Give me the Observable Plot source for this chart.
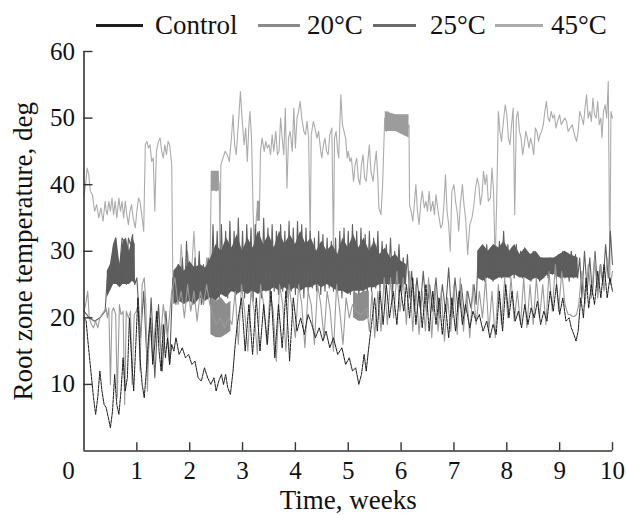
<!DOCTYPE html>
<html>
<head>
<meta charset="utf-8">
<script src="https://cdn.jsdelivr.net/npm/d3@7"></script>
<script src="https://cdn.jsdelivr.net/npm/@observablehq/plot@0.6"></script>
<style>
  html, body { margin: 0; padding: 0; background: #fff; }
  #wrap { width: 626px; font-family: "Liberation Serif", "Times New Roman", serif; }
  #legend { position: relative; height: 30px; width: 626px; z-index: 2; }
  #legend .sw { position: absolute; top: 24px; height: 3px; }
  #legend .lb { position: absolute; top: 9px; font-size: 27px; line-height: 32px; color: #111; white-space: nowrap; }
  #chart { position: relative; z-index: 1; }
</style>
</head>
<body>
<div id="wrap">
  <div id="legend"></div>
  <div id="chart"></div>
</div>
<script>
// ---- series names and colours ----
const seriesNames = ["Control", "20°C", "25°C", "45°C"];
const seriesColors = ["#1c1c1c", "#8a8a8a", "#6a6a6a", "#ababab"];

// ---- tick labels ----
const xTicks = [1, 2, 3, 4, 5, 6, 7, 8, 9, 10];
const yTicks = [10, 20, 30, 40, 50, 60];

// ---- Control: [week, °C] ----
const control = [
[0,20],[0.04,19.5],[0.08,16],[0.13,12],[0.18,8],[0.22,5.5],[0.26,8],[0.3,12],[0.34,9],[0.38,7],[0.42,6.5],[0.46,5],[0.5,3.5],[0.54,6],[0.58,11.5],[0.62,7],[0.66,5.5],[0.7,9],[0.74,14],[0.78,9],[0.82,11],[0.86,20],[0.9,14],[0.94,9],[0.98,16],[1.02,23],[1.06,14],[1.1,10],[1.14,8],[1.18,12],[1.22,17],[1.26,20],[1.3,13],[1.34,16],[1.38,21],[1.42,15],[1.46,12],[1.5,19],[1.54,14],[1.58,17],[1.62,13],[1.66,16],[1.7,15],
[1.74,17],[1.8,14.5],[1.86,15.5],[1.92,14],[1.98,14.5],[2.04,13],[2.1,13.5],[2.16,11],[2.22,10.5],[2.28,12.5],[2.34,11],[2.4,10],[2.46,11],[2.5,9],[2.55,10.5],[2.6,11.5],[2.64,10],[2.68,11.5],[2.72,9.5],[2.77,8.5],[2.82,12],[2.86,16],[2.9,19],[2.94,21],
[2.98,23],[3.05,15],[3.12,22],[3.19,14.5],[3.26,23],[3.33,15],[3.4,22],[3.47,16],[3.54,24],[3.61,14],[3.68,22],[3.75,15.5],[3.82,24],[3.89,13.5],[3.96,23],
[4.03,18],[4.1,20],[4.17,17.5],[4.24,20.5],[4.31,19],[4.38,17],[4.45,18.5],[4.52,16.5],[4.58,18],[4.65,15.5],[4.72,17],[4.8,14.5],[4.88,15.5],[4.95,13],[5.02,14],[5.08,12],[5.14,12.5],[5.2,10],[5.25,11.5],[5.3,14.5],[5.34,12],[5.38,15],[5.44,19],[5.5,23],[5.55,18],[5.6,24],[5.66,19],[5.72,25],[5.78,20],[5.85,24],[5.92,19],[5.98,25],
[6.05,21],[6.1,25],[6.16,20],[6.22,26],[6.28,19],[6.34,24],[6.4,18.5],[6.47,25],[6.53,18],[6.6,24],[6.66,19],[6.72,23],[6.78,17.5],[6.84,22],[6.9,17],[6.96,23],[7.03,18],[7.1,24],[7.16,19],[7.22,22],[7.3,18.5],[7.36,21],[7.42,19.5],[7.48,20.5],[7.55,18],[7.62,19.5],[7.68,17],[7.74,19],[7.8,17.5],[7.86,24],[7.92,18],[7.98,25],
[8.04,20],[8.1,24],[8.16,19.5],[8.22,21],[8.28,18.5],[8.34,22],[8.4,19],[8.46,21.5],[8.52,20],[8.58,22.5],[8.64,19],[8.7,21],[8.76,19.5],[8.82,24],[8.88,21],[8.94,25],[9.0,20.5],[9.06,23],[9.12,19.5],[9.18,20],[9.22,18.5],[9.27,17.5],[9.31,16.5],[9.35,18],[9.4,23],[9.45,20],[9.5,26],[9.55,21.5],[9.6,25],[9.66,22],[9.72,27],[9.78,23],[9.84,28],[9.9,23],[9.95,26],[10,24]
];

// ---- 20°C: [week, °C] ----
const t20 = [
[0,21],[0.03,22],[0.07,24],[0.1,20],[0.14,19],[0.18,18.5],[0.22,19.5],[0.26,18.5],[0.3,20],[0.34,20.5],[0.38,21],[0.42,21.5],[0.44,20],
[0.47,21.5],[0.5,10],[0.53,21],[0.56,21.5],[0.6,20.5],[0.63,8],[0.67,22],[0.7,20.5],[0.74,21],[0.77,7],[0.8,21],[0.84,20],[0.88,21],[0.91,10],[0.95,20.5],[0.99,21],[1.03,22],[1.06,12],[1.1,25],[1.14,26],[1.17,22],[1.2,9],
[1.24,20],[1.3,14],[1.37,21],[1.44,16],[1.5,22],[1.58,17],[1.66,24],
[1.72,26],[1.78,22],[1.84,24],[1.9,20],[1.96,25],[2.02,21],[2.08,24],[2.14,19.5],[2.2,24],[2.26,22],[2.32,25],[2.38,22],
[2.42,21],[2.5,19],[2.58,20],[2.66,18.5],[2.74,20],[2.8,19],
[2.86,24],[2.92,16],[2.98,25],[3.04,21],[3.1,15],[3.16,24],[3.22,21],[3.28,14.5],[3.34,25],[3.4,22],[3.46,16],[3.52,24],[3.58,21],[3.64,13.5],[3.7,25],[3.76,22],[3.82,15],[3.88,25],[3.94,21],[4.0,17],[4.06,25],[4.12,22],[4.18,15.5],[4.24,24],[4.3,22],[4.36,16],[4.42,25],[4.48,22],[4.54,17],[4.6,24],[4.66,21],[4.72,15],[4.78,25],[4.84,21],[4.9,16],[4.96,23],[5.02,20],[5.08,22],
[5.15,21],[5.25,20.5],[5.35,21.5],[5.4,18],[5.45,24],[5.5,17],[5.56,24],
[5.62,18],[5.68,26],[5.74,19],[5.8,26],[5.86,20],[5.92,27],[5.98,21],[6.04,26],[6.1,19],[6.16,27],[6.22,18],[6.28,25],[6.34,17.5],[6.4,24],[6.46,18],[6.52,26],[6.58,17],[6.64,25],[6.7,18],[6.76,24],[6.82,16.5],[6.88,23],[6.94,18],[7.0,25],[7.06,17.5],[7.12,26],[7.18,18],[7.24,24],[7.3,17],[7.36,25],[7.42,19],[7.48,24],[7.54,20],[7.6,26],[7.66,18],[7.72,24],[7.78,17],[7.84,25],[7.9,19],[7.96,26],
[8.02,20],[8.08,26],[8.14,19.5],[8.2,24],[8.26,19],[8.32,26],[8.38,18.5],[8.44,25],[8.5,19],[8.56,26],[8.62,20],[8.68,25],[8.74,19],[8.8,27],[8.86,21],[8.92,28],[8.98,21],[9.04,27],[9.1,22],[9.16,20.5],[9.2,20.5],[9.24,20.2],[9.28,20.2],[9.32,20.5],[9.36,22],[9.42,27],[9.48,22],[9.54,28],[9.6,23],[9.66,29],[9.72,23],[9.78,28],[9.84,24],[9.9,29],[9.96,25],[10,27]
];

// ---- 25°C: [week, °C] ----
const t25 = [
[0,21],[0.1,20],[0.2,19.5],[0.3,20],[0.4,21],[0.44,26],[0.5,27],[0.56,31],[0.6,32],[0.64,26],[0.68,28],[0.72,32],[0.76,31.5],[0.8,25],[0.84,32],[0.88,31],[0.92,32.5],[0.96,25],
[1.0,26],[1.07,17],[1.13,24],[1.2,12],[1.27,23],[1.34,11],[1.41,22],[1.48,12],[1.55,21],[1.62,13],[1.68,26],
[1.74,22],[1.78,28],[1.82,23],[1.86,29],[1.9,22.5],[1.94,31.5],[1.98,23],[2.02,28],[2.06,22],[2.1,29],[2.14,23],[2.18,30],[2.22,22],[2.26,28],[2.3,23],[2.35,29],[2.4,22],[2.44,34],[2.48,24],[2.52,33],[2.56,23],[2.6,34],[2.64,24],[2.68,33],[2.72,23],[2.76,34.5],[2.8,24],[2.84,33],[2.88,23.5],[2.92,35],[2.96,24],[3.0,33],[3.04,23],[3.08,34],[3.12,24],[3.16,33.5],[3.2,22.5],[3.24,34],[3.28,24],[3.32,33],[3.36,23],[3.4,35],[3.44,24],[3.48,33.5],[3.52,23],[3.56,34],[3.6,24],[3.64,33],[3.68,23.5],[3.72,34],[3.76,24],[3.8,33],[3.84,23],[3.88,34.5],[3.92,24],[3.96,33.5],[4.0,23.5],[4.04,34.5],[4.08,24],[4.12,34],[4.16,23],[4.2,33.5],[4.24,24],[4.28,33],[4.32,24.5],[4.36,32],[4.4,24],[4.44,33],[4.48,23.5],[4.52,32.5],[4.56,24],[4.6,32],[4.64,24.5],[4.68,31.5],[4.72,24],[4.76,32],[4.8,24],[4.84,33],[4.88,23],[4.92,33.5],[4.96,24],[5.0,33],[5.04,23.5],[5.08,34],[5.12,24],[5.16,33],[5.2,23],[5.24,33.5],[5.28,24],[5.32,32.5],[5.36,23.5],[5.4,33],[5.44,24],[5.48,32],[5.52,24.5],[5.56,33],[5.6,24],[5.64,31.5],[5.68,24.5],[5.72,31],[5.76,25],[5.8,32],[5.84,24],[5.88,30],[5.92,25],[5.96,31],[6.0,24],[6.04,29],[6.08,25],[6.12,29.5],
[6.16,23],[6.2,27],[6.25,21],[6.3,26],[6.36,21.5],[6.42,27],[6.48,20.5],[6.54,25],[6.6,21],[6.66,26],[6.72,20],[6.78,25],[6.84,21],[6.9,27.5],[6.96,20],[7.02,26],[7.08,21],[7.14,25],[7.2,20.5],[7.26,24],[7.32,21.5],[7.38,25],[7.42,22],
[7.46,30],[7.5,26],[7.54,30.5],[7.58,25.5],[7.62,31],[7.66,26],[7.7,30],[7.74,25.5],[7.78,30.5],[7.82,26],[7.86,31.5],[7.9,26],[7.94,33],[7.98,26.5],[8.02,31],[8.06,26],[8.1,30.5],[8.14,26],[8.18,31],[8.22,26.5],[8.26,30],[8.3,26],[8.34,30.5],[8.38,26],[8.42,29.5],[8.46,25.5],[8.5,30],[8.54,26],[8.58,29.5],[8.62,25.5],[8.66,29],[8.7,26],[8.74,28.5],[8.78,26],[8.82,29],[8.86,26.5],[8.9,28.5],[8.94,26],[8.98,29.5],[9.02,26],[9.06,30],[9.1,26],[9.14,29.5],[9.18,25.5],[9.22,30],[9.26,26],[9.3,29.5],[9.34,26],
[9.38,29],[9.42,23],[9.47,30],[9.52,24],[9.57,29],[9.62,23.5],[9.67,30],[9.72,24],[9.77,28],[9.82,25],[9.87,31],[9.92,26],[9.96,33],[10,28]
];

// ---- 45°C: [week, °C] ----
const t45 = [
[0,38.5],[0.03,40],[0.06,42.5],[0.09,41.5],[0.12,39],[0.16,38.5],[0.2,36],[0.24,37],[0.28,35],[0.32,36.5],[0.36,34.5],[0.4,37.5],[0.42,36],[0.44,35.5],[0.47,37.5],[0.5,36],[0.53,38],[0.56,35.5],[0.59,37.5],[0.62,35],[0.66,38],[0.69,36],[0.72,37.5],[0.75,35],[0.78,37.5],[0.81,35.5],[0.84,34],[0.87,36],[0.9,37],[0.93,35],[0.97,33.5],[1.0,36],[1.03,38],[1.06,37.5],[1.1,35],[1.13,33],
[1.16,46],[1.19,46.5],[1.22,45.5],[1.25,46],[1.28,43.5],[1.31,44],[1.34,36],[1.37,45],[1.41,46.5],[1.44,47],[1.47,45],[1.5,44],[1.53,46],[1.56,44.5],[1.59,46.5],[1.62,46],[1.66,43],[1.68,26],
[1.72,27],[1.78,23],[1.84,31],[1.9,24],[1.96,30],[2.02,25],[2.08,33],[2.14,24],[2.2,27],[2.26,22],[2.32,29],[2.38,26],
[2.41,42],[2.44,39.5],[2.47,42],[2.5,39],[2.53,41.5],[2.56,40],[2.57,30],[2.59,43],[2.63,44],[2.67,45],[2.71,44.5],[2.75,43.5],[2.79,47],[2.82,50.5],[2.85,46],[2.88,44.5],[2.92,49],[2.96,54],[2.99,50],[3.03,46],[3.06,48.5],[3.09,43.5],[3.12,49],[3.14,51],[3.17,47],[3.2,36],[3.23,27],[3.26,35],[3.29,37.5],[3.32,36],[3.34,45],[3.37,47],[3.41,45],[3.44,46.5],[3.47,45.5],[3.5,46],[3.53,44.5],[3.56,47.5],[3.59,45],[3.63,48],[3.66,44.5],[3.69,45],[3.72,50],[3.75,47],[3.78,44.5],[3.81,51.5],[3.84,39.5],[3.87,47],[3.9,48],[3.94,45],[3.97,51.5],
[4.0,45.5],[4.03,50],[4.06,51],[4.09,52.5],[4.12,50],[4.16,48],[4.19,47.5],[4.22,49.5],[4.25,47],[4.28,31],[4.3,47.5],[4.34,49.5],[4.37,48.5],[4.41,47],[4.44,48],[4.48,45],[4.5,44],[4.53,46],[4.56,47],[4.59,45],[4.62,44.5],[4.65,47.5],[4.69,48.5],[4.72,30],[4.74,47],[4.77,48],[4.8,45],[4.82,44],[4.84,49],[4.86,53.5],[4.89,49],[4.92,48],[4.95,47],[4.98,44],[5.0,45],[5.03,43.5],[5.06,44],[5.1,40.5],[5.13,43],[5.16,44],[5.19,41],[5.22,40],[5.25,43],[5.28,44.5],[5.31,41],[5.34,40.5],[5.37,43.5],[5.4,46],[5.43,42],[5.47,40.5],[5.5,43],[5.53,45],[5.56,41],[5.58,36.5],[5.62,35.5],[5.65,40],
[5.69,50],[5.72,48],[5.75,51],[5.8,49],[5.9,50],[6.0,48.5],[6.1,48],[6.15,49],[6.16,37],
[6.19,36],[6.22,34.5],[6.25,37],[6.28,40],[6.31,36],[6.34,34],[6.37,37],[6.4,39],[6.44,36.5],[6.47,37.5],[6.5,36],[6.53,39],[6.56,36],[6.6,37.5],[6.63,35.5],[6.66,38.5],[6.7,36],[6.72,35],[6.75,33.5],[6.78,34],[6.81,37],[6.84,41.5],[6.87,36],[6.9,34],[6.93,30],[6.96,39],[7.0,40],[7.03,37.5],[7.06,36],[7.09,33],[7.12,37],[7.16,40],[7.19,37],[7.22,35],[7.26,29.5],[7.3,34],[7.34,35],[7.37,36.5],[7.41,39.5],[7.44,41],[7.47,40],[7.5,37],[7.53,38.5],[7.56,42],[7.59,40],[7.62,41.5],[7.65,37.5],[7.69,38],[7.72,42.5],[7.75,39],[7.78,28],[7.81,38],
[7.84,51],[7.87,48],[7.9,46.5],[7.93,49],[7.97,52],[8.0,50.5],[8.03,47],[8.06,46],[8.09,49],[8.12,51.5],[8.15,35.5],[8.18,50],[8.21,51],[8.24,48],[8.27,47],[8.3,44.5],[8.33,46],[8.36,48],[8.39,47],[8.42,45.5],[8.45,47],[8.48,46],[8.51,44.5],[8.54,48.5],[8.57,48],[8.6,46.5],[8.63,47.5],[8.66,48],[8.69,49],[8.72,51],[8.75,52.5],[8.78,50],[8.81,49.5],[8.84,51],[8.87,50],[8.9,50.5],[8.93,48.5],[8.96,49.5],[9.0,50.5],[9.03,49],[9.06,49.5],[9.1,50],[9.13,49.5],[9.16,48],[9.2,48.5],[9.24,49],[9.28,47.5],[9.32,46.5],[9.35,48],[9.38,51],[9.42,50],[9.45,49],[9.48,51.5],[9.51,53.5],[9.54,50],[9.57,51],[9.6,49.5],[9.63,53],[9.66,50.5],[9.69,50],[9.72,52.5],[9.75,49],[9.78,50],[9.8,47],[9.83,51],[9.86,52],[9.89,50],[9.92,55.5],[9.95,26],[9.97,51],[10,50]
];

// ---- envelopes of rapid heater cycling: [week, low °C, high °C] (null = gap) ----
const band25 = [
[0.44,23,27],[0.5,24,28],[0.56,25,31],[0.62,25,32],[0.68,24.5,28],[0.74,25,31.5],[0.8,25,32],[0.86,25,30],[0.92,25.5,32],[0.97,25,31],
[1.3,null,null],
[1.7,22,27],[1.8,22.5,28],[1.9,22,27],[2.0,22.5,28.5],[2.1,22,27.5],[2.2,23,28],[2.3,22.5,27.5],[2.4,23,29],[2.5,22.5,31],[2.6,23.5,30],[2.7,23,32],[2.8,24,30.5],[2.9,23.5,32.5],[3.0,24,30],[3.1,23.5,32],[3.2,24,30.5],[3.3,23.5,33],[3.4,24,31],[3.5,24,32.5],[3.6,24.5,30.5],[3.7,24,33],[3.8,24.5,31],[3.9,24,32.5],[4.0,24.5,31],[4.1,24,33],[4.2,24.5,31],[4.3,24.5,32],[4.4,25,30],[4.5,24.5,31.5],[4.6,25,30],[4.7,24.5,31],[4.8,24,29.5],[4.9,24,32],[5.0,23.5,30.5],[5.1,24,32.5],[5.2,24,30.5],[5.3,24,32],[5.4,24.5,30],[5.5,24.5,31.5],[5.6,25,29.5],[5.7,25,30.5],[5.8,25,29],[5.9,25,29.5],[6.0,25,28.5],[6.1,25,28],
[6.8,null,null],
[7.45,26,30],[7.55,25.5,31],[7.65,26,30],[7.75,25.5,31],[7.85,26,30.5],[7.95,26,31.5],[8.05,26,30],[8.15,26.5,31],[8.25,26,29.5],[8.35,26,30.5],[8.45,25.5,29.5],[8.55,26,30],[8.65,25.5,29],[8.78,26.5,29],[8.9,26.5,29],[9.0,26,29.5],[9.1,26,30],[9.2,26,29.5],[9.35,26,29]
];
const band20 = [
[2.4,17.5,23],[2.5,17,22.5],[2.6,17,23],[2.7,17.5,22],[2.78,18,22.5],
[4.0,null,null],
[5.1,20,24],[5.2,19.5,23.5],[5.3,19.5,24],[5.4,20,24]
];
const band45 = [
[2.41,39,42],[2.56,39,42],
[2.9,null,null],
[3.28,34.5,37.5],[3.34,34.5,37.5],
[4.5,null,null],
[5.7,48,51],[5.9,48,50.5],[6.15,47,50.5]
];

// ---- legend (HTML, above the SVG) ----
const legendPos = [[96, 47, 155], [258, 42, 307], [373, 43, 430], [495, 48, 551]];
const legend = document.getElementById("legend");
seriesNames.forEach((name, i) => {
  const [lx, lw, tx] = legendPos[i];
  const sw = document.createElement("div");
  sw.className = "sw";
  sw.style.left = lx + "px";
  sw.style.width = lw + "px";
  sw.style.background = seriesColors[i];
  legend.appendChild(sw);
  const lb = document.createElement("div");
  lb.className = "lb";
  lb.style.left = tx + "px";
  lb.textContent = name;
  legend.appendChild(lb);
});

const X = d => d[0], Y = d => d[1];
const lw = 1.1;
const axisColor = "#333";

const chart = Plot.plot({
  width: 626,
  height: 485,
  marginTop: 21,
  marginBottom: 64.5,
  marginLeft: 83.5,
  marginRight: 14,
  style: { fontFamily: "Liberation Serif, 'Times New Roman', serif", color: "#111", background: "transparent" },
  x: { domain: [0, 10] },
  y: { domain: [0, 60] },
  marks: [
    Plot.line(t45, { x: X, y: Y, stroke: seriesColors[3], strokeWidth: lw }),
    Plot.areaY(band45, { x: X, y1: d => d[1], y2: d => d[2], fill: "#9c9c9c" }),
    Plot.areaY(band25, { x: X, y1: d => d[1], y2: d => d[2], fill: "#5c5c5c" }),
    Plot.line(t25, { x: X, y: Y, stroke: "#5e5e5e", strokeWidth: lw }),
    Plot.areaY(band20, { x: X, y1: d => d[1], y2: d => d[2], fill: "#8c8c8c" }),
    Plot.line(t20, { x: X, y: Y, stroke: "#9a9a9a", strokeWidth: lw }),
    Plot.line(control, { x: X, y: Y, stroke: seriesColors[0], strokeWidth: 1, strokeDasharray: "3,1" }),
    // axis lines
    Plot.ruleX([0], { y1: 0, y2: 60, stroke: axisColor, strokeWidth: 1.6 }),
    Plot.ruleY([0], { x1: 0, x2: 10, stroke: axisColor, strokeWidth: 1.6 }),
    // inward ticks
    Plot.ruleX(xTicks, { x: d => d, y1: 0, y2: 1.25, stroke: axisColor, strokeWidth: 1.4 }),
    Plot.ruleY(yTicks, { y: d => d, x1: 0, x2: 0.17, stroke: axisColor, strokeWidth: 1.4 }),
    // tick labels
    Plot.axisX(xTicks, { tickSize: 0, tickPadding: 10, fontSize: 25, label: null }),
    Plot.axisY(yTicks, { tickSize: 0, tickPadding: 9, fontSize: 25, label: null }),
    Plot.text([0], { x: d => d, y: 0, text: d => String(d), dx: -15.5, dy: 10, lineAnchor: "top", fontSize: 25 }),
    // axis titles
    Plot.text(["Time, weeks"], { frameAnchor: "bottom", dy: 49, lineAnchor: "middle", textAnchor: "middle", fontSize: 27 }),
    Plot.text(["Root zone temperature, deg"], { frameAnchor: "left", dx: -61, rotate: -90, lineAnchor: "middle", textAnchor: "middle", fontSize: 27 })
  ]
});
document.getElementById("chart").appendChild(chart);
</script>
</body>
</html>
